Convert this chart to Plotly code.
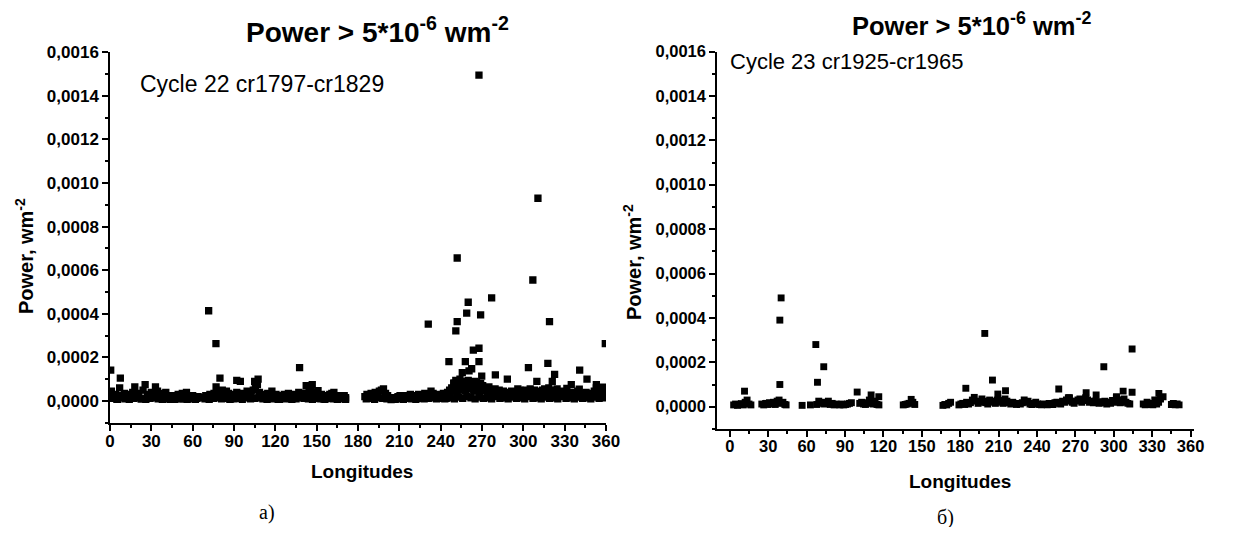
import plotly.graph_objects as go

# page is 1234x535; the html body keeps its default 8px margin, so the figure is 16px smaller
PAGE_W, PAGE_H = 1234, 535
OFF = 8
W, H = PAGE_W - 2 * OFF, PAGE_H - 2 * OFF

# ---------------- Cycle 22 (left panel) ----------------
lon22_a = [1, 2.5, 4, 5.5, 7, 9, 10.5, 12, 13.5, 15,
           16.5, 18, 19.5, 21, 22.5, 24, 25.5, 27, 28.5, 30,
           31.5, 33, 34.5, 36, 37.5, 39, 40.5, 42, 43.5, 45,
           46.5, 48, 49.5, 51, 52.5, 54, 55.5, 57, 58.5, 60,
           61.5, 63, 64]
pow22_a = [45e-6, 20e-6, 30e-6, 8e-6, 60e-6, 25e-6, 35e-6, 20e-6, 30e-6, 15e-6,
           40e-6, 65e-6, 25e-6, 35e-6, 10e-6, 50e-6, 75e-6, 30e-6, 20e-6, 40e-6,
           25e-6, 65e-6, 45e-6, 20e-6, 35e-6, 25e-6, 40e-6, 20e-6, 8e-6, 25e-6,
           20e-6, 15e-6, 30e-6, 10e-6, 35e-6, 25e-6, 40e-6, 20e-6, 15e-6, 25e-6,
           20e-6, 12e-6, 20e-6]

lon22_b = [68, 69.5, 71, 72.5, 74, 75.5, 77, 78.5, 80, 81.5,
           83, 84.5, 86, 87.5, 89, 90.5, 92, 93.5, 95, 96.5,
           98, 99.5, 101, 102.5, 104, 105.5, 107, 108.5, 110, 111.5,
           113, 114.5, 116, 117.5, 119, 120.5, 122, 123.5, 125, 126.5,
           128, 129.5, 131, 132.5, 134, 135.5, 137, 138.5, 140, 141.5,
           143, 144.5, 146, 147.5, 149, 150.5, 152, 153.5, 155, 156.5,
           158, 159.5, 161, 162.5, 164, 165.5, 167, 168.5, 170, 171]
pow22_b = [15e-6, 25e-6, 20e-6, 30e-6, 25e-6, 35e-6, 65e-6, 40e-6, 30e-6, 50e-6,
           25e-6, 45e-6, 35e-6, 10e-6, 30e-6, 25e-6, 40e-6, 20e-6, 35e-6, 25e-6,
           30e-6, 45e-6, 20e-6, 35e-6, 50e-6, 60e-6, 75e-6, 40e-6, 25e-6, 30e-6,
           20e-6, 35e-6, 25e-6, 45e-6, 20e-6, 30e-6, 8e-6, 25e-6, 20e-6, 30e-6,
           25e-6, 35e-6, 10e-6, 25e-6, 30e-6, 20e-6, 40e-6, 25e-6, 35e-6, 20e-6,
           30e-6, 45e-6, 55e-6, 35e-6, 25e-6, 40e-6, 20e-6, 30e-6, 10e-6, 25e-6,
           20e-6, 30e-6, 35e-6, 40e-6, 20e-6, 25e-6, 10e-6, 20e-6, 25e-6, 15e-6]

lon22_c = [185, 186.5, 188, 189.5, 191, 192.5, 194, 195.5, 197, 198.5,
           200, 201.5, 203, 204.5, 206, 207.5, 209, 210.5, 212, 213.5,
           215, 216.5, 218, 219.5, 221, 222.5, 224, 225.5, 227, 228.5,
           230, 231.5, 233, 234.5, 236, 237.5, 239, 240.5, 242, 243.5,
           245, 246.5, 248, 249.5, 251, 252.5, 254, 255.5, 257, 258.5,
           260, 261.5, 263, 264.5, 266, 267.5, 269, 270.5, 272, 273.5,
           275, 276.5, 278, 279.5, 281, 282.5, 284, 285.5, 287, 288.5,
           290, 291.5, 293, 294.5, 296, 297.5, 299, 300.5, 302, 303.5,
           305, 306.5, 308, 309.5, 311, 312.5, 314, 315.5, 317, 318.5,
           320, 321.5, 323, 324.5, 326, 327.5, 329, 330.5, 332, 333.5,
           335, 336.5, 338, 339.5, 341, 342.5, 344, 345.5, 347, 348.5,
           350, 351.5, 353, 354.5, 356, 357.5, 359]
pow22_c = [20e-6, 30e-6, 25e-6, 35e-6, 20e-6, 40e-6, 30e-6, 45e-6, 50e-6, 55e-6,
           35e-6, 25e-6, 15e-6, 8e-6, 10e-6, 15e-6, 20e-6, 25e-6, 15e-6, 20e-6,
           25e-6, 20e-6, 30e-6, 15e-6, 25e-6, 20e-6, 30e-6, 25e-6, 20e-6, 35e-6,
           25e-6, 30e-6, 45e-6, 35e-6, 20e-6, 25e-6, 30e-6, 20e-6, 35e-6, 30e-6,
           40e-6, 50e-6, 60e-6, 80e-6, 95e-6, 85e-6, 100e-6, 90e-6, 75e-6, 85e-6,
           95e-6, 80e-6, 70e-6, 90e-6, 85e-6, 75e-6, 80e-6, 70e-6, 60e-6, 55e-6,
           65e-6, 50e-6, 45e-6, 55e-6, 40e-6, 50e-6, 35e-6, 45e-6, 30e-6, 40e-6,
           35e-6, 45e-6, 30e-6, 40e-6, 55e-6, 50e-6, 45e-6, 35e-6, 50e-6, 40e-6,
           55e-6, 45e-6, 50e-6, 40e-6, 45e-6, 35e-6, 50e-6, 55e-6, 40e-6, 60e-6,
           50e-6, 45e-6, 40e-6, 55e-6, 35e-6, 45e-6, 30e-6, 40e-6, 35e-6, 25e-6,
           40e-6, 30e-6, 25e-6, 45e-6, 35e-6, 20e-6, 30e-6, 40e-6, 25e-6, 35e-6,
           30e-6, 45e-6, 60e-6, 40e-6, 35e-6, 30e-6, 25e-6]

lon22_d = [244, 247, 250, 253, 256, 259, 262, 265, 268, 271,
           274, 277, 280, 283, 286, 289, 292, 295, 298, 301,
           304, 307, 310, 313, 316, 319, 322, 325, 328, 331,
           334, 337, 340, 343, 346, 349, 352, 355, 358]
pow22_d = [12e-6, 15e-6, 10e-6, 18e-6, 12e-6, 20e-6, 15e-6, 10e-6, 18e-6, 12e-6,
           15e-6, 10e-6, 20e-6, 12e-6, 15e-6, 10e-6, 18e-6, 12e-6, 15e-6, 10e-6,
           20e-6, 12e-6, 15e-6, 10e-6, 18e-6, 12e-6, 15e-6, 10e-6, 20e-6, 12e-6,
           15e-6, 10e-6, 18e-6, 12e-6, 15e-6, 10e-6, 18e-6, 12e-6, 15e-6]

lon22_e = [248, 250, 252, 254, 256, 258, 260, 262, 264, 266,
           268, 270, 272, 274, 276, 278, 280, 282, 284, 286,
           288, 290]
pow22_e = [45e-6, 55e-6, 40e-6, 60e-6, 50e-6, 45e-6, 55e-6, 65e-6, 45e-6, 50e-6,
           40e-6, 55e-6, 45e-6, 35e-6, 40e-6, 30e-6, 35e-6, 30e-6, 25e-6, 35e-6,
           30e-6, 25e-6]

lon22_f = [292.5, 295.5, 298.5, 301.5, 304.5, 307.5, 310.5, 313.5, 316.5, 319.5,
           322.5, 325.5, 328.5, 331.5, 334.5, 337.5, 340.5, 343.5, 346.5, 349.5,
           352.5, 355.5, 358.5]
pow22_f = [28e-6, 32e-6, 25e-6, 30e-6, 35e-6, 28e-6, 30e-6, 25e-6, 32e-6, 28e-6,
           30e-6, 25e-6, 28e-6, 22e-6, 25e-6, 28e-6, 22e-6, 25e-6, 30e-6, 22e-6,
           25e-6, 28e-6, 35e-6]

# low-lying points that fill the bottom of the band
lon22_g1 = [2, 5, 8, 11, 14, 17, 20, 23, 26, 29,
            32, 35, 38, 41, 44, 47, 50, 53, 56, 59, 62]
pow22_g1 = [12e-6, 8e-6, 14e-6, 10e-6, 8e-6, 12e-6, 15e-6, 10e-6, 8e-6, 12e-6,
            14e-6, 10e-6, 8e-6, 12e-6, 10e-6, 8e-6, 12e-6, 10e-6, 8e-6, 10e-6, 8e-6]
lon22_g2 = [69, 72, 75, 78, 81, 84, 87, 90, 93, 96,
            99, 102, 105, 108, 111, 114, 117, 120, 123, 126,
            129, 132, 135, 138, 141, 144, 147, 150, 153, 156,
            159, 162, 165, 168, 171]
pow22_g2 = [10e-6, 8e-6, 12e-6, 14e-6, 10e-6, 12e-6, 8e-6, 10e-6, 12e-6, 8e-6,
            14e-6, 10e-6, 12e-6, 15e-6, 10e-6, 8e-6, 10e-6, 12e-6, 8e-6, 10e-6,
            12e-6, 8e-6, 10e-6, 14e-6, 12e-6, 10e-6, 8e-6, 12e-6, 10e-6, 8e-6,
            12e-6, 10e-6, 8e-6, 12e-6, 8e-6]
lon22_g3 = [186, 189, 192, 195, 198, 201, 204, 207, 210, 213,
            216, 219, 222, 225, 228, 231, 234, 237, 240, 243]
pow22_g3 = [10e-6, 12e-6, 8e-6, 14e-6, 12e-6, 10e-6, 6e-6, 8e-6, 10e-6, 8e-6,
            12e-6, 10e-6, 8e-6, 12e-6, 10e-6, 12e-6, 14e-6, 10e-6, 12e-6, 10e-6]

lon22_peaks = [0.5, 7.5, 71.6, 76.9, 79.8, 92, 94.6, 105, 107.5, 137.6,
               142.4, 146.8, 151, 231, 246, 249.6, 251, 252, 252, 255.7,
               257.9, 258.9, 260, 260.6, 262.5, 263.7, 267.8, 267.8, 267.8, 269,
               269.8, 277, 279.7, 288.4, 303.7, 306.9, 309.8, 310.6, 317.8, 319,
               321, 322.7, 331.6, 334.8, 340.6, 340.9, 346.2, 353, 357.8, 359.5]
pow22_peaks = [142e-6, 105e-6, 414e-6, 263e-6, 105e-6, 95e-6, 90e-6, 90e-6, 100e-6, 153e-6,
               70e-6, 75e-6, 47e-6, 353e-6, 181e-6, 83e-6, 322e-6, 364e-6, 656e-6, 130e-6,
               181e-6, 403e-6, 453e-6, 138e-6, 148e-6, 233e-6, 1495e-6, 242e-6, 181e-6, 395e-6,
               114e-6, 473e-6, 120e-6, 100e-6, 153e-6, 555e-6, 90e-6, 930e-6, 173e-6, 364e-6,
               90e-6, 122e-6, 58e-6, 75e-6, 54e-6, 142e-6, 100e-6, 75e-6, 64e-6, 263e-6]

# ---------------- Cycle 23 (right panel) ----------------
lon23_a = [3, 4.5, 6, 7.5, 9, 10.5, 12, 13.5, 15, 16.5]
pow23_a = [8e-6, 12e-6, 6e-6, 10e-6, 14e-6, 8e-6, 20e-6, 30e-6, 12e-6, 8e-6]

lon23_b = [25, 26.5, 28, 29.5, 31, 32.5, 34, 35.5, 37, 38.5, 40, 41.5, 43, 44]
pow23_b = [12e-6, 8e-6, 15e-6, 10e-6, 18e-6, 12e-6, 20e-6, 10e-6, 25e-6, 30e-6,
           15e-6, 20e-6, 10e-6, 8e-6]

lon23_c = [56.5, 63]
pow23_c = [6e-6, 8e-6]

lon23_d = [68, 69.5, 71, 72.5, 74, 75.5, 77, 78.5, 80, 81.5,
           83, 84.5, 86, 87.5, 89, 90.5, 92, 93.5, 95]
pow23_d = [10e-6, 25e-6, 15e-6, 20e-6, 12e-6, 18e-6, 25e-6, 10e-6, 15e-6, 8e-6,
           12e-6, 10e-6, 8e-6, 12e-6, 8e-6, 10e-6, 12e-6, 15e-6, 18e-6]

lon23_e = [101.5, 103, 104.5, 106, 107.5, 109, 110.5, 112, 113.5, 115, 116.5]
pow23_e = [15e-6, 20e-6, 12e-6, 10e-6, 18e-6, 30e-6, 15e-6, 12e-6, 25e-6, 10e-6, 8e-6]

lon23_f = [135.5, 137, 138.5, 140, 143, 144.5]
pow23_f = [8e-6, 10e-6, 12e-6, 15e-6, 20e-6, 10e-6]

lon23_g = [166.5, 168, 169.5, 171, 172.5]
pow23_g = [6e-6, 10e-6, 8e-6, 15e-6, 20e-6]

lon23_h = [179, 180.5, 182, 183.5, 185, 186.5, 188, 189.5, 191, 192.5,
           194, 195.5, 197, 198.5, 200, 201.5, 203, 204.5, 206, 207.5,
           209, 210.5, 212, 213.5, 215, 216.5, 218, 219.5, 221, 222.5,
           224, 225.5, 227, 228.5, 230, 231.5, 233, 234.5, 236, 237.5,
           239, 240.5, 242, 243.5, 245, 246.5, 248, 249.5, 251, 252.5,
           254, 255.5, 257, 258.5, 260, 261.5, 263, 264.5, 266, 267.5,
           269, 270.5, 272, 273.5, 275, 276.5, 278, 279.5, 281, 282.5,
           284, 285.5, 287, 288.5, 290, 291.5, 293, 294.5, 296, 297.5,
           299, 300.5, 302, 303.5, 305, 306.5, 308, 309.5, 311, 312.5]
pow23_h = [8e-6, 12e-6, 15e-6, 10e-6, 20e-6, 12e-6, 18e-6, 30e-6, 42e-6, 25e-6,
           15e-6, 20e-6, 35e-6, 25e-6, 18e-6, 12e-6, 30e-6, 20e-6, 25e-6, 15e-6,
           30e-6, 20e-6, 28e-6, 15e-6, 35e-6, 25e-6, 18e-6, 12e-6, 20e-6, 15e-6,
           10e-6, 15e-6, 12e-6, 18e-6, 30e-6, 20e-6, 25e-6, 12e-6, 10e-6, 15e-6,
           20e-6, 12e-6, 10e-6, 8e-6, 12e-6, 10e-6, 8e-6, 15e-6, 12e-6, 10e-6,
           18e-6, 20e-6, 15e-6, 12e-6, 25e-6, 20e-6, 30e-6, 40e-6, 25e-6, 20e-6,
           15e-6, 25e-6, 30e-6, 35e-6, 20e-6, 28e-6, 40e-6, 30e-6, 20e-6, 25e-6,
           18e-6, 25e-6, 20e-6, 15e-6, 22e-6, 18e-6, 25e-6, 12e-6, 20e-6, 15e-6,
           28e-6, 20e-6, 40e-6, 30e-6, 18e-6, 25e-6, 35e-6, 20e-6, 15e-6, 12e-6]

lon23_i = [323, 324.5, 326, 327.5, 329, 330.5, 332, 333.5, 335, 336.5]
pow23_i = [12e-6, 8e-6, 20e-6, 10e-6, 15e-6, 8e-6, 30e-6, 12e-6, 20e-6, 35e-6]

lon23_j = [345, 346.5, 348, 349.5, 351]
pow23_j = [10e-6, 15e-6, 8e-6, 12e-6, 8e-6]

lon23_peaks = [11.5, 39.1, 39.1, 40.1, 67.2, 68.5, 73.4, 99.5, 110.4, 116.4,
               141.7, 184.4, 199.2, 205.2, 209.4, 215.4, 257, 265.4, 278.4, 286.2,
               292.2, 302.1, 307.3, 314.3, 314.3, 335.2, 338.5]
pow23_peaks = [70e-6, 100e-6, 390e-6, 490e-6, 280e-6, 110e-6, 180e-6, 66e-6, 53e-6, 45e-6,
               33e-6, 83e-6, 330e-6, 120e-6, 57e-6, 72e-6, 80e-6, 40e-6, 63e-6, 53e-6,
               180e-6, 45e-6, 70e-6, 260e-6, 65e-6, 60e-6, 45e-6]

# ticks
x_ticks = [0, 30, 60, 90, 120, 150, 180, 210, 240, 270, 300, 330, 360]
x_ticktext = ["0", "30", "60", "90", "120", "150", "180", "210", "240", "270", "300", "330", "360"]
x_minor = [15, 45, 75, 105, 135, 165, 195, 225, 255, 285, 315, 345]
y_ticks = [0, 0.0002, 0.0004, 0.0006, 0.0008, 0.0010, 0.0012, 0.0014, 0.0016]
y_ticktext = ["0,0000", "0,0002", "0,0004", "0,0006", "0,0008", "0,0010", "0,0012", "0,0014", "0,0016"]
y_minor = [-0.0001, 0.0001, 0.0003, 0.0005, 0.0007, 0.0009, 0.0011, 0.0013, 0.0015]

lon22_sets = [(lon22_g1, pow22_g1), (lon22_g2, pow22_g2), (lon22_g3, pow22_g3),
              (lon22_a, pow22_a), (lon22_b, pow22_b), (lon22_c, pow22_c),
              (lon22_d, pow22_d), (lon22_e, pow22_e), (lon22_f, pow22_f),
              (lon22_peaks, pow22_peaks)]
lon23_sets = [(lon23_a, pow23_a), (lon23_b, pow23_b), (lon23_c, pow23_c), (lon23_d, pow23_d),
              (lon23_e, pow23_e), (lon23_f, pow23_f), (lon23_g, pow23_g), (lon23_h, pow23_h),
              (lon23_i, pow23_i), (lon23_j, pow23_j), (lon23_peaks, pow23_peaks)]
for a, b in lon22_sets + lon23_sets:
    assert len(a) == len(b), (len(a), len(b))

x22 = [v for a, _ in lon22_sets for v in a]
y22 = [v for _, b in lon22_sets for v in b]
x23 = [v for a, _ in lon23_sets for v in a]
y23 = [v for _, b in lon23_sets for v in b]


def px(x):
    """page pixel x -> paper fraction"""
    return (x - OFF) / W


def py(y):
    """page pixel y (from top) -> paper fraction"""
    return 1 - (y - OFF) / H


FONT = "Liberation Sans, Arial, sans-serif"
SERIF = "Liberation Serif, DejaVu Serif, serif"

fig = go.Figure()
fig.add_trace(go.Scatter(x=x22, y=y22, mode="markers", xaxis="x", yaxis="y",
                         marker=dict(symbol="square", size=7.3, color="black", line=dict(width=0)),
                         showlegend=False, hoverinfo="skip"))
fig.add_trace(go.Scatter(x=x23, y=y23, mode="markers", xaxis="x2", yaxis="y2",
                         marker=dict(symbol="square", size=6.9, color="black", line=dict(width=0)),
                         showlegend=False, hoverinfo="skip"))


def xaxis(domain, rng, anchor, fsize):
    return dict(domain=domain, range=rng, anchor=anchor, showline=True, linecolor="black",
                linewidth=1.5, ticks="outside", ticklen=6, tickwidth=1.5, tickcolor="black",
                tickmode="array", tickvals=x_ticks, ticktext=x_ticktext, ticklabelstandoff=-4,
                minor=dict(ticks="outside", ticklen=3, tickwidth=1.5, tickcolor="black",
                           tickmode="array", tickvals=x_minor),
                showgrid=False, zeroline=False, automargin=False,
                tickfont=dict(family=FONT, size=fsize, color="black", weight="bold"))


def yaxis(domain, anchor, fsize):
    return dict(domain=domain, range=[-0.0001, 0.0016], anchor=anchor, showline=True,
                linecolor="black", linewidth=1.5, ticks="outside", ticklen=6, tickwidth=1.5,
                tickcolor="black", tickmode="array", tickvals=y_ticks, ticktext=y_ticktext,
                minor=dict(ticks="outside", ticklen=3, tickwidth=1.5, tickcolor="black",
                           tickmode="array", tickvals=y_minor),
                showgrid=False, zeroline=False, automargin=False,
                tickfont=dict(family=FONT, size=fsize, color="black", weight="bold"))


fig.update_layout(
    width=W, height=H, autosize=False,
    margin=dict(l=0, r=0, t=0, b=0),
    paper_bgcolor="white", plot_bgcolor="white",
    xaxis=xaxis([px(110), px(606)], [0, 360], "y", 17),
    yaxis=yaxis([py(422.8), py(52.2)], "x", 17),
    xaxis2=xaxis([px(717), px(1193.8)], [-10, 362.5], "y2", 16.5),
    yaxis2=yaxis([py(428.9), py(51.5)], "x2", 16.5),
)


def label(text, x, y, size, xanchor="center", family=FONT, angle=0):
    return dict(text=text, x=px(x), y=py(y), xref="paper", yref="paper",
                xanchor=xanchor, yanchor="middle", showarrow=False, textangle=angle,
                font=dict(family=family, size=size, color="black"))


ann = [
    label("<b>Power > 5*10<sup>-6</sup> wm<sup>-2</sup></b>", 377, 30, 28),
    label("<b>Power > 5*10<sup>-6</sup> wm<sup>-2</sup></b>", 971, 23.5, 25.5),
    label("Cycle 22 cr1797-cr1829", 138, 84, 23, xanchor="left"),
    label("Cycle 23 cr1925-cr1965", 728, 61, 22, xanchor="left"),
    label("<b>Longitudes</b>", 362, 471, 19),
    label("<b>Longitudes</b>", 960, 481, 19),
    label("<b>Power, wm<sup>-2</sup></b>", 24, 256, 20, angle=-90),
    label("<b>Power, wm<sup>-2</sup></b>", 632, 262, 20, angle=-90),
    label("а)", 267, 512, 20, family=SERIF),
    label("б)", 945, 517, 20, family=SERIF),
]
fig.update_layout(annotations=ann)

fig.write_html("out.html")
